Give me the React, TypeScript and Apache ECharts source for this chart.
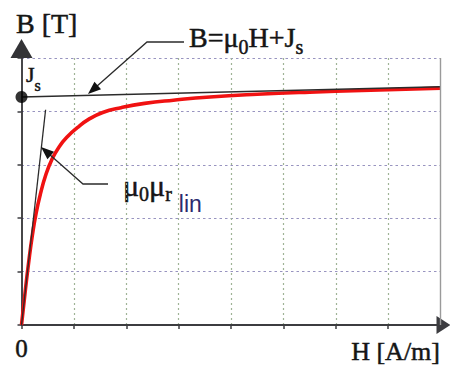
import { useEffect, useRef } from "react";
import * as echarts from "echarts";

// Magnetisation curve B(H), read in grid units (H: 0..8, B: 0..5)
const curveH = [0, 0.07, 0.14, 0.21, 0.28, 0.36, 0.46, 0.58, 0.72, 0.88, 1.06, 1.28, 1.55, 1.9, 2.35, 2.9, 3.6, 4.5, 5.5, 6.5, 7.5, 8.0];
const curveB = [0, 0.62, 1.2, 1.7, 2.1, 2.45, 2.8, 3.1, 3.34, 3.53, 3.69, 3.85, 3.98, 4.07, 4.15, 4.21, 4.27, 4.32, 4.36, 4.39, 4.42, 4.435];

// Saturation asymptote B = mu0*H + Js
const satH = [0, 8];
const satB = [4.27, 4.46];

// Initial (linear) permeability line mu0*mu_r,lin
const linH = [0, 0.46];
const linB = [0, 4.03];

// Saturation polarisation Js marked on the B axis
const jsPoint = [0, 4.27];

const hMax = 8;
const bMax = 5;

const SERIF = "'Liberation Serif', 'Times New Roman', serif";
const SANS = "'Liberation Sans', Arial, sans-serif";
const INK = "#2b2b2b";
const TEXT = "#151515";

const pairs = (xs: number[], ys: number[]) => xs.map((x, i) => [x, ys[i]]);

// leader line ending in a filled arrowhead whose tip is at `tip`
function leader(points: number[][], tip: number[]) {
  const from = points[points.length - 1];
  const dx = tip[0] - from[0];
  const dy = tip[1] - from[1];
  const len = Math.hypot(dx, dy);
  const ux = dx / len;
  const uy = dy / len;
  const headLen = 13;
  const headHalf = 5;
  const bx = tip[0] - ux * headLen;
  const by = tip[1] - uy * headLen;
  return [
    {
      type: "polyline",
      silent: true,
      shape: { points: [...points, [bx + ux * 2, by + uy * 2]] },
      style: { stroke: INK, lineWidth: 1.3, fill: "none" },
      z: 10,
    },
    {
      type: "polygon",
      silent: true,
      shape: {
        points: [
          tip,
          [bx - uy * headHalf, by + ux * headHalf],
          [bx + uy * headHalf, by - ux * headHalf],
        ],
      },
      style: { fill: "#111", stroke: "none" },
      z: 10,
    },
  ];
}

// serif text with a hairline outline so the strokes read a little heavier
const serifTok = (size: number, padBottom: number) => ({
  fontFamily: SERIF,
  fontSize: size,
  fill: TEXT,
  stroke: TEXT,
  lineWidth: 0.5,
  padding: [0, 0, padBottom, 0],
  verticalAlign: "bottom",
});

export default function App() {
  const ref = useRef<HTMLDivElement>(null);

  useEffect(() => {
    if (!ref.current) return;
    const chart = echarts.init(ref.current, null, { renderer: "svg" });

    const option: any = {
      animation: false,
      backgroundColor: "#ffffff",
      grid: { left: 21.5, top: 58, width: 419, height: 267, containLabel: false },
      xAxis: {
        type: "value",
        min: 0,
        max: hMax,
        interval: 1,
        axisLine: {
          show: true,
          onZero: false,
          lineStyle: { color: "#3c3c40", width: 1.8 },
          symbol: ["none", "triangle"],
          symbolSize: [18, 14],
          symbolOffset: [0, 3],
        },
        axisTick: { show: true, length: 4, lineStyle: { color: "#3c3c40", width: 1.5 } },
        axisLabel: {
          show: true,
          margin: 11,
          formatter: (v: number) => (v === 0 ? "0" : ""),
          fontFamily: SERIF,
          fontSize: 25,
          color: TEXT,
          textBorderColor: TEXT,
          textBorderWidth: 0.5,
        },
        splitLine: {
          show: true,
          showMinLine: false,
          showMaxLine: false,
          lineStyle: { color: "#9fb396", type: [2, 3], width: 1.2 },
        },
      },
      yAxis: {
        type: "value",
        min: 0,
        max: bMax,
        interval: 1,
        axisLine: {
          show: true,
          onZero: false,
          lineStyle: { color: "#333336", width: 1.8 },
          symbol: ["none", "triangle"],
          symbolSize: [22, 19],
          symbolOffset: [0, 9.5],
        },
        axisTick: { show: true, length: 4, lineStyle: { color: "#3c3c40", width: 1.5 } },
        axisLabel: { show: false },
        splitLine: {
          show: true,
          showMinLine: false,
          lineStyle: { color: "#9894c0", type: [2.5, 3], width: 1.2 },
        },
      },
      series: [
        {
          name: "B(H)",
          type: "line",
          data: pairs(curveH, curveB),
          smooth: 0.5,
          symbol: "none",
          lineStyle: { color: "#f01212", width: 3.6 },
          z: 2,
          markLine: {
            silent: true,
            symbol: ["none", "none"],
            label: { show: false },
            lineStyle: { color: "#9a9a9a", type: "solid", width: 1.4 },
            data: [{ xAxis: hMax }],
          },
        },
        {
          name: "B = mu0 H + Js",
          type: "line",
          data: pairs(satH, satB),
          symbol: "none",
          lineStyle: { color: INK, width: 1.5 },
          z: 3,
        },
        {
          name: "mu0 mu_r,lin",
          type: "line",
          data: pairs(linH, linB),
          symbol: "none",
          lineStyle: { color: INK, width: 1.3 },
          z: 3,
        },
        {
          name: "Js",
          type: "scatter",
          data: [jsPoint],
          symbol: "circle",
          symbolSize: 12,
          itemStyle: { color: "#000" },
          z: 4,
        },
      ],
      graphic: [
        {
          type: "text",
          silent: true,
          style: {
            text: "B [T]",
            x: 16,
            y: 23.5,
            font: `28px ${SERIF}`,
            fill: TEXT,
            stroke: TEXT,
            lineWidth: 0.5,
            align: "left",
            verticalAlign: "middle",
          },
        },
        {
          type: "text",
          silent: true,
          style: {
            text: "{m|J}{s|s}",
            x: 26,
            y: 93.6,
            align: "left",
            verticalAlign: "bottom",
            rich: { m: serifTok(22, 8), s: serifTok(16, 0) },
          },
        },
        {
          type: "text",
          silent: true,
          style: {
            text: "{m|B=μ}{s|0}{m|H+J}{s|s}",
            x: 189,
            y: 57,
            align: "left",
            verticalAlign: "bottom",
            rich: { m: serifTok(28, 5.5), s: serifTok(20, 0) },
          },
        },
        {
          type: "text",
          silent: true,
          style: {
            text: "{m|μ}{s|0}{m|μ}{s|r}{l|lin}",
            x: 123,
            y: 215,
            align: "left",
            verticalAlign: "bottom",
            rich: {
              m: serifTok(30, 15),
              s: serifTok(20, 11.5),
              l: { fontFamily: SANS, fontSize: 23, fill: "#2b2a6e", padding: [0, 0, 0, 7], verticalAlign: "bottom" },
            },
          },
        },
        {
          type: "text",
          silent: true,
          style: {
            text: "H [A/m]",
            x: 440,
            y: 351.5,
            font: `26px ${SERIF}`,
            fill: TEXT,
            stroke: TEXT,
            lineWidth: 0.5,
            align: "right",
            verticalAlign: "middle",
          },
        },
        ...leader([[184, 42], [147, 42]], [88, 94]),
        ...leader([[108, 184], [83, 184]], [41, 147]),
      ],
    };

    chart.setOption(option);
    return () => chart.dispose();
  }, []);

  return (
    <div
      ref={ref}
      style={{ position: "fixed", left: 0, top: 0, width: 450, height: 369, background: "#fff" }}
    />
  );
}
